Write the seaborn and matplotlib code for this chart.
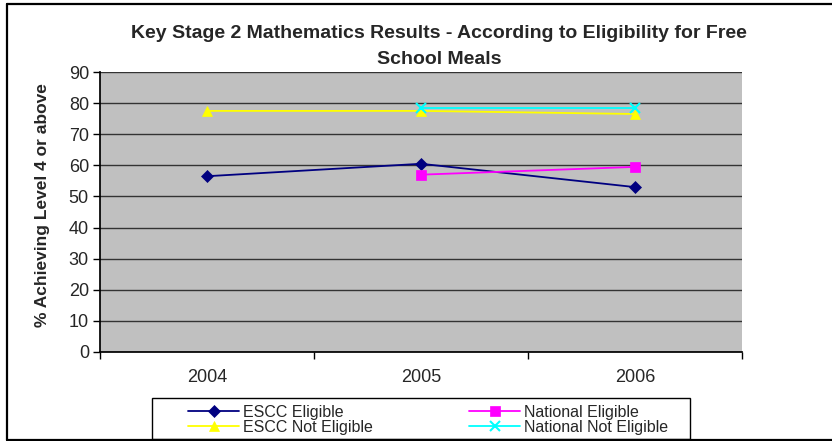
import matplotlib
matplotlib.use("Agg")
import matplotlib.pyplot as plt
import seaborn as sns
import pandas as pd
import numpy as np
from matplotlib.patches import Rectangle
from matplotlib.lines import Line2D

years = ["2004", "2005", "2006"]
escc_eligible = [56.5, 60.5, 53.0]
national_eligible = [np.nan, 57.0, 59.5]
escc_not_eligible = [77.5, 77.5, 76.5]
national_not_eligible = [np.nan, 78.5, 78.5]

series_names = ["ESCC Eligible", "National Eligible", "ESCC Not Eligible", "National Not Eligible"]
series_values = [escc_eligible, national_eligible, escc_not_eligible, national_not_eligible]
colors = ["#000080", "#FF00FF", "#FFFF00", "#00FFFF"]
markers = ["D", "s", "^", "x"]

rows = []
for name, vals in zip(series_names, series_values):
    for i, (y, v) in enumerate(zip(years, vals)):
        rows.append({"Year": y, "x": i, "Series": name, "Value": v})
df = pd.DataFrame(rows).dropna()

sns.set_theme(style="white")
plt.rcParams['font.family'] = ['Liberation Sans', 'DejaVu Sans']

W, H = 832, 441
fig = plt.figure(figsize=(W/100, H/100), dpi=100)
ax = fig.add_axes([100/W, 89/H, 642/W, 280/H])
ax.set_facecolor("#C0C0C0")

for name, c, m in zip(series_names, colors, markers):
    sub = df[df["Series"] == name]
    sns.lineplot(data=sub, x="x", y="Value", ax=ax, color=c, marker=m,
                 markersize=6.5 if m != "x" else 7, markeredgecolor=c,
                 markeredgewidth=1.5 if m == "x" else 0.5,
                 linewidth=1.3, label=name, legend=False)

ax.set_xlim(-0.5, 2.5)
ax.set_ylim(0, 90)
ax.set_yticks(np.arange(0, 91, 10))
ax.yaxis.grid(True, color="#333333", linewidth=1)
ax.set_axisbelow(True)
ax.set_xticks([0, 1, 2])
ax.set_xticklabels(years)
ax.set_xticks([-0.5, 0.5, 1.5, 2.5], minor=True)
ax.tick_params(axis="x", which="major", length=0, labelsize=13, pad=12)
ax.tick_params(axis="x", which="minor", length=5, width=1, direction="out", color="black", bottom=True)
ax.tick_params(axis="y", length=5, width=1, direction="out", color="black", left=True, labelsize=13, pad=3)
ax.set_xlabel("")
ax.set_ylabel("% Achieving Level 4 or above", fontsize=12.5, fontweight="bold")
ax.yaxis.set_label_coords(-0.078, 0.525)
for s in ["top", "right"]:
    ax.spines[s].set_visible(False)
ax.spines["left"].set_color("black")
ax.spines["bottom"].set_color("black")

fig.text(0.528, 1 - 33/H, "Key Stage 2 Mathematics Results - According to Eligibility for Free",
         ha="center", va="center", fontsize=14, fontweight="bold")
fig.text(0.528, 1 - 60/H, "School Meals", ha="center", va="center", fontsize=14, fontweight="bold")

handles, labels = ax.get_legend_handles_labels()
common = dict(loc="upper left", frameon=False, fontsize=11.5, handlelength=3.2,
              borderpad=0.0, labelspacing=0.0, handletextpad=0.25, borderaxespad=0)
leg1 = fig.legend([handles[0], handles[2]], [labels[0], labels[2]],
                  bbox_to_anchor=(188/W, 1 - 405/H), **common)
leg2 = fig.legend([handles[1], handles[3]], [labels[1], labels[3]],
                  bbox_to_anchor=(469/W, 1 - 405/H), **common)

fig.patches.append(Rectangle((152/W, 2/H), 538/W, 41/H, transform=fig.transFigure,
                             fill=False, edgecolor="black", linewidth=1))
# outer chart frame (left, top, bottom edges)
fig.lines.append(Line2D([7.5/W, 7.5/W], [1 - 4/H, 1 - 440/H], transform=fig.transFigure,
                        color="black", linewidth=1.6))
fig.lines.append(Line2D([7/W, 1], [1 - 4/H, 1 - 4/H], transform=fig.transFigure,
                        color="black", linewidth=1.6))
fig.lines.append(Line2D([7/W, 1], [1 - 440/H, 1 - 440/H], transform=fig.transFigure,
                        color="black", linewidth=1.6))

fig.savefig("out.png", dpi=100)
